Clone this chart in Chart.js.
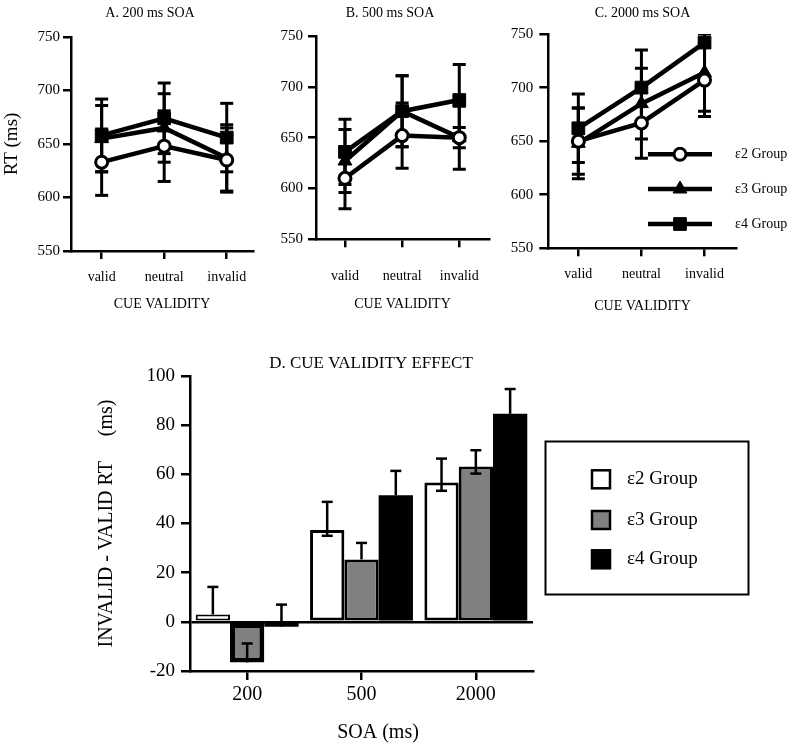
<!DOCTYPE html>
<html>
<head>
<meta charset="utf-8">
<script src="https://cdn.jsdelivr.net/npm/chart.js@4/dist/chart.umd.min.js"></script>
<style>
html,body{margin:0;padding:0;background:#fff;}
#wrap{position:relative;width:800px;height:748px;background:#fff;}
#wrap canvas{position:absolute;left:0;top:0;}
</style>
</head>
<body>
<div id="wrap">
<canvas id="cA" width="800" height="748"></canvas>
<canvas id="cB" width="800" height="748"></canvas>
<canvas id="cC" width="800" height="748"></canvas>
<canvas id="cD" width="800" height="748"></canvas>
</div>
<script>
// ---------- DATA ----------
const cueCategories = ['valid', 'neutral', 'invalid'];
const groupNames = ['ε2 Group', 'ε3 Group', 'ε4 Group'];
const rtTicks = [550, 600, 650, 700, 750];

// A. 200 ms SOA (mean RT, ms) and error (ms)
const a200_e2 = [633, 648, 635];
const a200_e3 = [655, 665, 637];
const a200_e4 = [658, 674, 656];
const a200_e2_err = [31, 33, 30];
const a200_e3_err = [31, 32, 31];
const a200_e4_err = [34, 33, 32];

// B. 500 ms SOA
const b500_e2 = [610, 652, 650];
const b500_e3 = [627, 676, 650];
const b500_e4 = [636, 676, 687];
const b500_e2_err = [30, 32, 31];
const b500_e3_err = [31, 35, 10];
const b500_e4_err = [32, 35, 35];

// C. 2000 ms SOA
const c2000_e2 = [650, 667, 707];
const c2000_e3 = [648, 685, 714];
const c2000_e4 = [662, 700, 742];
const c2000_e2_err = [31, 33, 34];
const c2000_e3_err = [33, 33, 36];
const c2000_e4_err = [32, 35, 33];

// D. Cue validity effect (invalid - valid RT, ms)
const soaLabels = ['200', '500', '2000'];
const cve_e2 = [3, 37.4, 56.7];
const cve_e3 = [-16.5, 25.4, 63.2];
const cve_e4 = [-2, 51.5, 84.6];
const cve_e2_errUp = [11.2, 11.4, 9.7];
const cve_e3_errUp = [7.7, 6.7, 6.6];
const cve_e4_errUp = [9, 9.9, 10.1];
const cve_e2_errLow = [0, 2.4, 3.4];
const cve_e3_errLow = [0, 0, 2.9];
const cve_e4_errLow = [0, 0, 0];

// ---------- SETUP ----------
const SERIF = "'Liberation Serif', 'Times New Roman', serif";
Chart.defaults.font.family = SERIF;
Chart.defaults.color = '#000';
const W = 800, H = 748;

const markers = [
  {style: 'circle',   radius: 6, bg: '#fff', bw: 3},
  {style: 'triangle', radius: 8, bg: '#000', bw: 1},
  {style: 'rect',     radius: 9, bg: '#000', bw: 1}
];

function drawErrorBars(chart, o) {
  const {ctx, chartArea: ca, scales} = chart;
  const ys = scales.y;
  ctx.save();
  ctx.beginPath();
  ctx.rect(ca.left - 40, ca.top, ca.width + 80, ca.height);
  ctx.clip();
  ctx.strokeStyle = '#000';
  ctx.lineWidth = o.lineWidth;
  const hw = o.capWidth / 2;
  chart.data.datasets.forEach((ds, di) => {
    const meta = chart.getDatasetMeta(di);
    meta.data.forEach((el, j) => {
      const d = ds.data[j];
      const v = (typeof d === 'object') ? d.y : d;
      const up = ds.errUp[j], lo = ds.errLow[j];
      const px = el.x;
      const yt = ys.getPixelForValue(v + up), yb = ys.getPixelForValue(v - lo);
      ctx.beginPath(); ctx.moveTo(px, yt); ctx.lineTo(px, yb); ctx.stroke();
      if (up > 0) { ctx.beginPath(); ctx.moveTo(px - hw, yt); ctx.lineTo(px + hw, yt); ctx.stroke(); }
      if (lo > 0) { ctx.beginPath(); ctx.moveTo(px - hw, yb); ctx.lineTo(px + hw, yb); ctx.stroke(); }
    });
  });
  ctx.restore();
}

function errorBarsPlugin(mode, lineWidth, capWidth) {
  const o = {lineWidth, capWidth};
  return {
    id: 'errorBars',
    beforeDatasetsDraw(chart) { if (mode === 'line') drawErrorBars(chart, o); },
    afterDatasetsDraw(chart) { if (mode === 'bar') drawErrorBars(chart, o); }
  };
}

function textPlugin(items) {
  return {
    id: 'panelText',
    afterDraw(chart) {
      const ctx = chart.ctx;
      ctx.save();
      ctx.fillStyle = '#000';
      ctx.textAlign = 'center';
      ctx.textBaseline = 'middle';
      items.forEach(it => { ctx.font = it.font; ctx.fillText(it.text, it.x, it.y); });
      ctx.restore();
    }
  };
}

function drawMarker(ctx, m, x, y) {
  const opts = {pointStyle: m.style, radius: m.radius, borderWidth: m.bw, rotation: 0};
  ctx.fillStyle = m.bg;
  ctx.strokeStyle = '#000';
  ctx.lineWidth = m.bw;
  if (Chart.helpers && Chart.helpers.drawPoint) {
    Chart.helpers.drawPoint(ctx, opts, x, y);
  } else {
    ctx.beginPath(); ctx.arc(x, y, m.radius, 0, Math.PI * 2); ctx.fill(); ctx.stroke();
  }
}

function lineLegendPlugin(L) {
  return {
    id: 'lineLegend',
    afterDraw(chart) {
      const ctx = chart.ctx;
      ctx.save();
      chart.data.datasets.forEach((ds, k) => {
        const y = L.ys[k];
        ctx.strokeStyle = '#000';
        ctx.lineWidth = 4.5;
        ctx.beginPath(); ctx.moveTo(L.x0, y); ctx.lineTo(L.x1, y); ctx.stroke();
        drawMarker(ctx, markers[k], L.xm, y);
        ctx.fillStyle = '#000';
        ctx.font = L.font;
        ctx.textAlign = 'left';
        ctx.textBaseline = 'middle';
        ctx.fillText(ds.label, L.xt, y);
      });
      ctx.restore();
    }
  };
}

function boxLegendPlugin(L) {
  return {
    id: 'boxLegend',
    afterDraw(chart) {
      const ctx = chart.ctx;
      ctx.save();
      ctx.strokeStyle = '#000';
      ctx.lineWidth = 2;
      ctx.strokeRect(L.left, L.top, L.width, L.height);
      chart.data.datasets.forEach((ds, k) => {
        const y = L.ys[k];
        ctx.fillStyle = ds.backgroundColor;
        ctx.fillRect(L.xb, y - L.size / 2, L.size, L.size);
        ctx.lineWidth = 2.5;
        ctx.strokeRect(L.xb, y - L.size / 2, L.size, L.size);
        ctx.fillStyle = '#000';
        ctx.font = L.font;
        ctx.textAlign = 'left';
        ctx.textBaseline = 'middle';
        ctx.fillText(ds.label, L.xt, y);
      });
      ctx.restore();
    }
  };
}

function axisGrid(tickLength) {
  return {display: true, drawOnChartArea: false, drawTicks: true, tickLength: tickLength, color: '#000', lineWidth: 2.5};
}

function linePanel(id, cfg) {
  const datasets = cfg.series.map((vals, k) => ({
    label: groupNames[k],
    data: vals.map((v, i) => ({x: i, y: v})),
    errUp: cfg.errs[k],
    errLow: cfg.errs[k],
    borderColor: '#000',
    borderWidth: 4.5,
    fill: false,
    tension: 0,
    pointStyle: markers[k].style,
    pointRadius: markers[k].radius,
    pointHoverRadius: markers[k].radius,
    pointBackgroundColor: markers[k].bg,
    pointBorderColor: '#000',
    pointBorderWidth: markers[k].bw
  }));
  const plugins = [errorBarsPlugin('line', 3, 13), textPlugin(cfg.texts)];
  if (cfg.legend) plugins.push(lineLegendPlugin(cfg.legend));
  const a = cfg.area;
  new Chart(document.getElementById(id), {
    type: 'line',
    data: {datasets},
    options: {
      responsive: false, animation: false, devicePixelRatio: 1,
      layout: {padding: {left: a.left - cfg.yWidth, top: a.top, right: W - a.right, bottom: H - a.bottom - cfg.xHeight}},
      plugins: {legend: {display: false}, tooltip: {enabled: false}, title: {display: false}},
      scales: {
        x: {
          type: 'linear', bounds: 'data', min: cfg.xMin, max: cfg.xMax,
          afterBuildTicks: s => { s.ticks = cueCategories.map((c, i) => ({value: i})); },
          afterFit: s => { s.height = cfg.xHeight; },
          ticks: {callback: v => cueCategories[v], font: {size: 14}, padding: cfg.xPad, maxRotation: 0, autoSkip: false},
          grid: axisGrid(8),
          border: {display: true, color: '#000', width: 2.5},
          title: {display: true, text: 'CUE VALIDITY', font: {size: 14}, padding: {top: 0, bottom: cfg.xTitlePad}}
        },
        y: {
          min: 550, max: 750,
          afterBuildTicks: s => { s.ticks = rtTicks.map(v => ({value: v})); },
          afterFit: s => { s.width = cfg.yWidth; },
          ticks: {font: {size: 15}, padding: cfg.yPad},
          grid: axisGrid(cfg.yTick),
          border: {display: true, color: '#000', width: 2.5},
          title: cfg.yTitle
            ? {display: true, text: cfg.yTitle, font: {size: 19}, padding: {top: 1, bottom: 0}}
            : {display: false}
        }
      }
    },
    plugins
  });
}

// ---------- PANELS A-C ----------
linePanel('cA', {
  series: [a200_e2, a200_e3, a200_e4],
  errs: [a200_e2_err, a200_e3_err, a200_e4_err],
  area: {left: 71, top: 37, right: 253, bottom: 251},
  yWidth: 71, xHeight: 69, xMin: -0.49, xMax: 2.42,
  xPad: 9.6, xTitlePad: 7.6, yPad: 3, yTick: 8,
  yTitle: 'RT (ms)',
  texts: [{text: 'A. 200 ms SOA', x: 150, y: 13, font: '14px ' + SERIF}]
});

linePanel('cB', {
  series: [b500_e2, b500_e3, b500_e4],
  errs: [b500_e2_err, b500_e3_err, b500_e4_err],
  area: {left: 316, top: 36, right: 489, bottom: 239.3},
  yWidth: 54, xHeight: 81, xMin: -0.507, xMax: 2.52,
  xPad: 20.3, xTitlePad: 7.6, yPad: 5, yTick: 8,
  yTitle: null,
  texts: [{text: 'B. 500 ms SOA', x: 390, y: 13, font: '14px ' + SERIF}]
});

linePanel('cC', {
  series: [c2000_e2, c2000_e3, c2000_e4],
  errs: [c2000_e2_err, c2000_e3_err, c2000_e4_err],
  area: {left: 548.3, top: 34, right: 736.7, bottom: 248.3},
  yWidth: 48, xHeight: 72, xMin: -0.476, xMax: 2.51,
  xPad: 9.3, xTitlePad: 5.2, yPad: 6, yTick: 9,
  yTitle: null,
  texts: [{text: 'C. 2000 ms SOA', x: 642.5, y: 13, font: '14px ' + SERIF}],
  legend: {x0: 648, x1: 712, xm: 680, xt: 735, ys: [154.3, 189, 224], font: '14px ' + SERIF}
});

// ---------- PANEL D ----------
new Chart(document.getElementById('cD'), {
  type: 'bar',
  data: {
    labels: soaLabels,
    datasets: [
      {label: groupNames[0], data: cve_e2, errUp: cve_e2_errUp, errLow: cve_e2_errLow,
       backgroundColor: '#ffffff', borderColor: '#000', borderWidth: [2, 3, 3], borderSkipped: false},
      {label: groupNames[1], data: cve_e3, errUp: cve_e3_errUp, errLow: cve_e3_errLow,
       backgroundColor: '#808080', borderColor: '#000', borderWidth: [5, 3, 3], borderSkipped: false},
      {label: groupNames[2], data: cve_e4, errUp: cve_e4_errUp, errLow: cve_e4_errLow,
       backgroundColor: '#000000', borderColor: '#000', borderWidth: 0, borderSkipped: false}
    ]
  },
  options: {
    responsive: false, animation: false, devicePixelRatio: 1,
    datasets: {bar: {barPercentage: 1, categoryPercentage: 0.9}},
    layout: {padding: {left: 90, top: 376, right: 267, bottom: 0}},
    plugins: {legend: {display: false}, tooltip: {enabled: false}, title: {display: false}},
    scales: {
      x: {
        afterFit: s => { s.height = 77; },
        ticks: {font: {size: 20}, padding: 3, maxRotation: 0},
        grid: {display: true, offset: false, drawOnChartArea: false, drawTicks: true, tickLength: 9, color: '#000', lineWidth: 2.5},
        border: {display: true, color: '#000', width: 2.5}
      },
      y: {
        min: -20, max: 100,
        afterFit: s => { s.width = 100; },
        ticks: {stepSize: 20, font: {size: 19}, padding: 6},
        grid: {
          display: true, drawOnChartArea: true, drawTicks: true, tickLength: 9,
          color: c => (c.tick && c.tick.value === 0) ? '#000' : 'rgba(0,0,0,0)',
          lineWidth: 2.5, tickColor: '#000', tickWidth: 2.5
        },
        border: {display: true, color: '#000', width: 2.5},
        title: {display: true, text: 'INVALID - VALID RT     (ms)', font: {size: 20}, padding: {top: 5, bottom: 0}}
      }
    }
  },
  plugins: [
    errorBarsPlugin('bar', 2.5, 11),
    textPlugin([
      {text: 'D. CUE VALIDITY EFFECT', x: 371, y: 364, font: '17px ' + SERIF},
      {text: 'SOA (ms)', x: 378, y: 733, font: '20px ' + SERIF}
    ]),
    boxLegendPlugin({left: 545.5, top: 441.5, width: 203, height: 153, xb: 592, size: 18, xt: 627,
                     ys: [479.3, 520, 559.3], font: '19px ' + SERIF})
  ]
});
</script>
</body>
</html>
